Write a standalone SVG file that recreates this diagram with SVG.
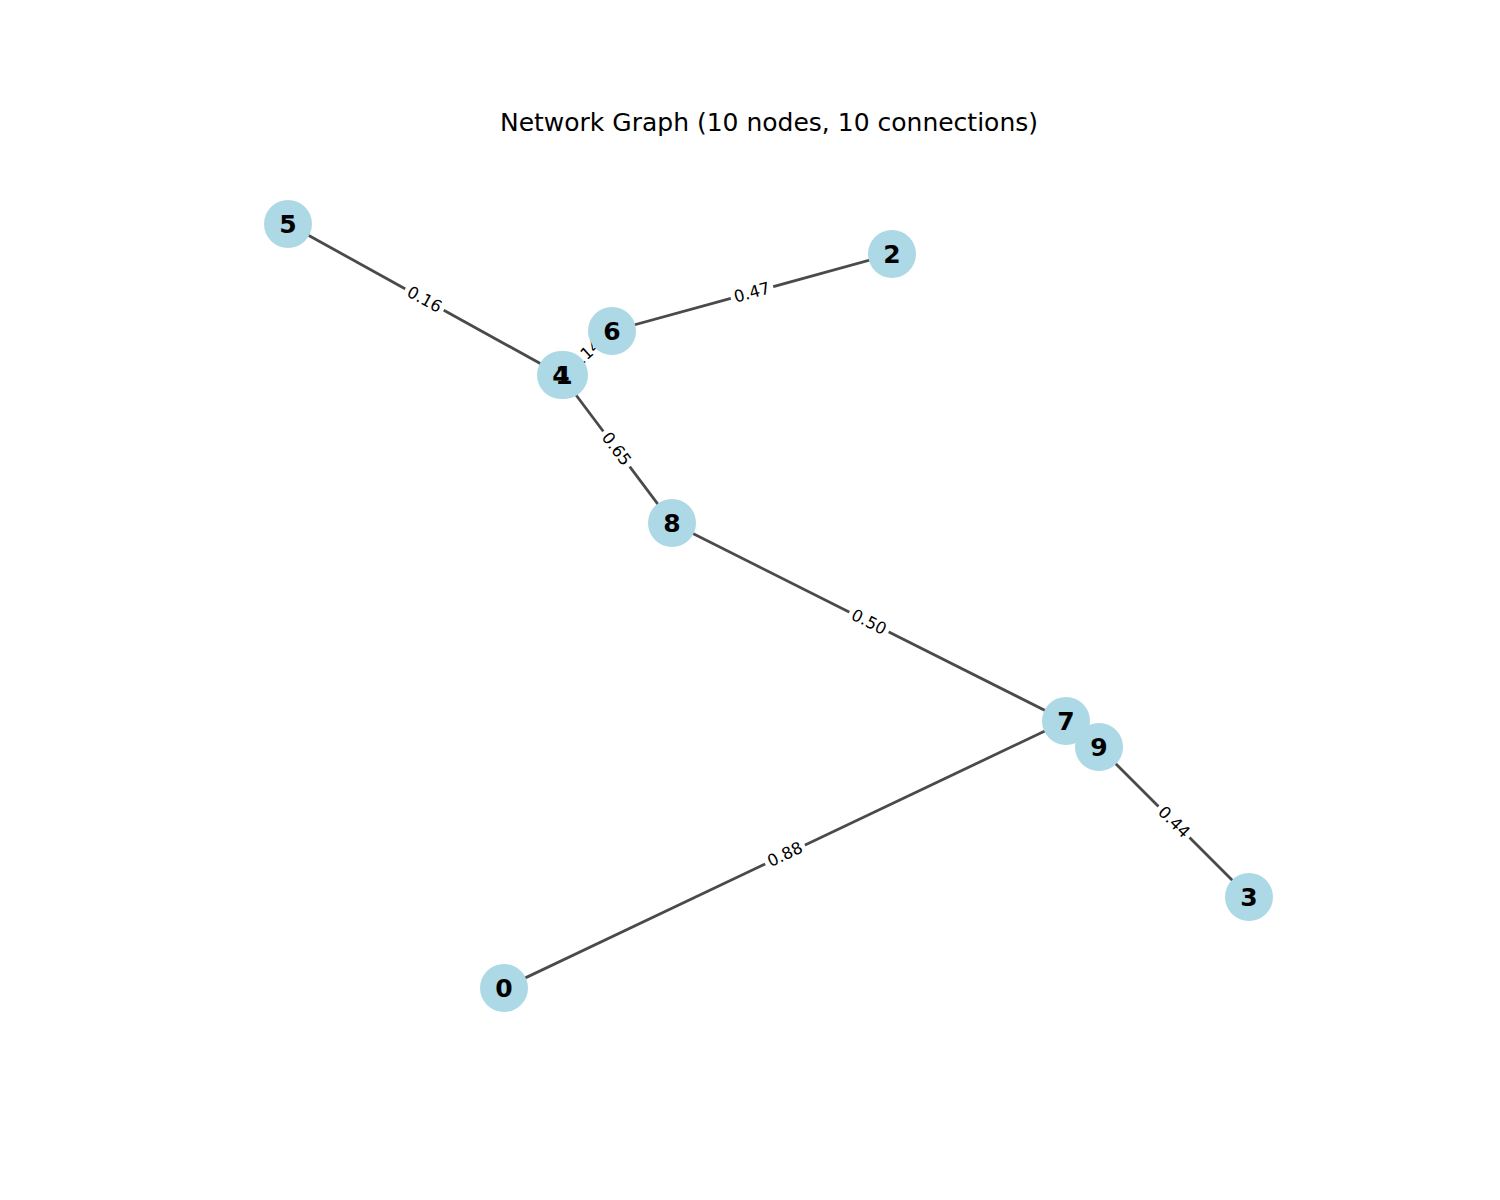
<svg xmlns="http://www.w3.org/2000/svg" width="1500" height="1200" viewBox="0 0 1500 1200">
<style>
.edge{stroke:#4a4a4a;stroke-width:2.8;fill:none}
.node circle{fill:#add8e6}
.node text{font-family:"DejaVu Sans",sans-serif;font-weight:bold;font-size:25px;fill:#000;text-anchor:middle;dominant-baseline:central}
.lbl rect{fill:#fff}
.lbl text{font-family:"DejaVu Sans",sans-serif;font-size:16.5px;fill:#000;text-anchor:middle;dominant-baseline:central}
.title{font-family:"DejaVu Sans",sans-serif;font-size:25px;fill:#000;text-anchor:middle}
</style>
<rect width="1500" height="1200" fill="#fff"/>
<text class="title" x="769" y="131">Network Graph (10 nodes, 10 connections)</text>
<g id="connectors">
<line class="edge" x1="288" y1="224" x2="561" y2="375"/>
<line class="edge" x1="612" y1="331" x2="892" y2="254"/>
<line class="edge" x1="564" y1="375" x2="612" y2="331"/>
<line class="edge" x1="561" y1="375" x2="564" y2="375"/>
<line class="edge" x1="561" y1="375" x2="672" y2="523"/>
<line class="edge" x1="672" y1="523" x2="1066" y2="721"/>
<line class="edge" x1="504" y1="988" x2="1066" y2="721"/>
<line class="edge" x1="1066" y1="721" x2="1099" y2="747"/>
<line class="edge" x1="1099" y1="747" x2="1249" y2="897"/>
<g class="lbl" transform="translate(424.5,299.5) rotate(28.9)"><rect x="-22" y="-10" width="44" height="20" rx="4"/><text>0.16</text></g>
<g class="lbl" transform="translate(752,292.5) rotate(-15.4)"><rect x="-22" y="-10" width="44" height="20" rx="4"/><text>0.47</text></g>
<g class="lbl" transform="translate(585,355) rotate(-42.5)"><rect x="-22" y="-10" width="44" height="20" rx="4"/><text>0.14</text></g>
<g class="lbl" transform="translate(616.5,449) rotate(53.1)"><rect x="-22" y="-10" width="44" height="20" rx="4"/><text>0.65</text></g>
<g class="lbl" transform="translate(869,622) rotate(26.7)"><rect x="-22" y="-10" width="44" height="20" rx="4"/><text>0.50</text></g>
<g class="lbl" transform="translate(785,854.5) rotate(-25.4)"><rect x="-22" y="-10" width="44" height="20" rx="4"/><text>0.88</text></g>
<g class="lbl" transform="translate(1174,822) rotate(45)"><rect x="-22" y="-10" width="44" height="20" rx="4"/><text>0.44</text></g>
</g>
<g id="node-5" class="node"><circle cx="288" cy="224" r="24"/><text x="288" y="224">5</text></g>
<g id="node-2" class="node"><circle cx="892" cy="254" r="24"/><text x="892" y="254">2</text></g>
<g id="node-6" class="node"><circle cx="612" cy="331" r="24"/><text x="612" y="331">6</text></g>
<g id="node-1" class="node"><circle cx="564" cy="375" r="24"/></g>
<g id="node-4" class="node"><circle cx="561" cy="375" r="24"/><text x="561" y="375">4</text></g>
<g id="node-1-label" class="node"><text x="564" y="375">1</text></g>
<g id="node-8" class="node"><circle cx="672" cy="523" r="24"/><text x="672" y="523">8</text></g>
<g id="node-7" class="node"><circle cx="1066" cy="721" r="24"/><text x="1066" y="721">7</text></g>
<g id="node-9" class="node"><circle cx="1099" cy="747" r="24"/><text x="1099" y="747">9</text></g>
<g id="node-3" class="node"><circle cx="1249" cy="897" r="24"/><text x="1249" y="897">3</text></g>
<g id="node-0" class="node"><circle cx="504" cy="988" r="24"/><text x="504" y="988">0</text></g>
</svg>
